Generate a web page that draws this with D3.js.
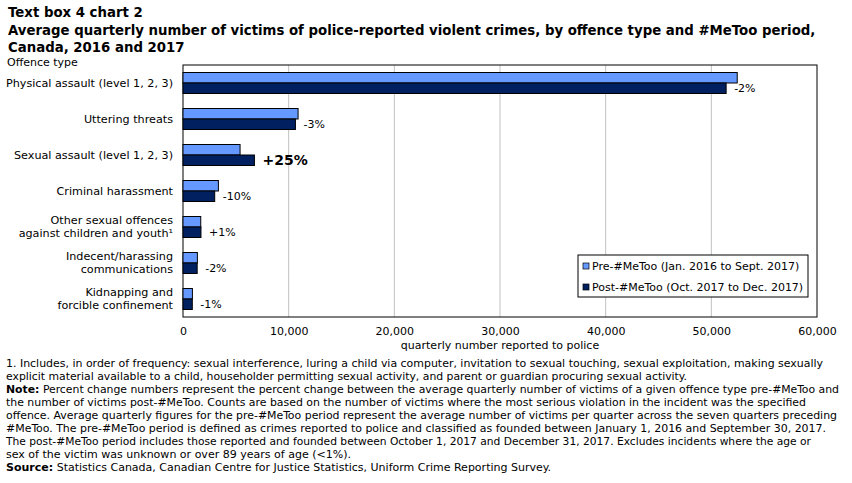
<html>
<head>
<meta charset="utf-8">
<style>
  body { margin: 0; background: #fff; }
  text { font-family: "DejaVu Sans", Verdana, sans-serif; fill: #000; }
  .grid line { stroke: #c0c0c0; stroke-width: 1px; }
  .bar { stroke: #000; stroke-width: 1px; }
</style>
</head>
<body>
<svg width="852" height="483"></svg>
<script src="https://d3js.org/d3.v7.min.js"></script>
<script>
  var categories = [
    ["Physical assault (level 1, 2, 3)"],
    ["Uttering threats"],
    ["Sexual assault (level 1, 2, 3)"],
    ["Criminal harassment"],
    ["Other sexual offences", "against children and youth\u00b9"],
    ["Indecent/harassing", "communications"],
    ["Kidnapping and", "forcible confinement"]
  ];
  var preMeToo = [52450, 10890, 5400, 3350, 1680, 1360, 890];
  var postMeToo = [51400, 10640, 6760, 3000, 1700, 1340, 880];
  var pctLabels = ["-2%", "-3%", "+25%", "-10%", "+1%", "-2%", "-1%"];
  var xTicks = [0, 10000, 20000, 30000, 40000, 50000, 60000];
  var seriesNames = ["Pre-#MeToo (Jan. 2016 to Sept. 2017)", "Post-#MeToo (Oct. 2017 to Dec. 2017)"];
  var colors = ["#6699ff", "#002060"];

  var footnotes = [
    {parts: [["", "1. Includes, in order of frequency: sexual interference, luring a child via computer, invitation to sexual touching, sexual exploitation, making sexually"]], w: 817},
    {parts: [["", "explicit material available to a child, householder permitting sexual activity, and parent or guardian procuring sexual activity."]], w: 681},
    {parts: [["b", "Note:"], ["", " Percent change numbers represent the percent change between the average quarterly number of victims of a given offence type pre-#MeToo and"]], w: 833},
    {parts: [["", "the number of victims post-#MeToo. Counts are based on the number of victims where the most serious violation in the incident was the specified"]], w: 800},
    {parts: [["", "offence. Average quarterly figures for the pre-#MeToo period represent the average number of victims per quarter across the seven quarters preceding"]], w: 831},
    {parts: [["", "#MeToo. The pre-#MeToo period is defined as crimes reported to police and classified as founded between January 1, 2016 and September 30, 2017."]], w: 820},
    {parts: [["", "The post-#MeToo period includes those reported and founded between October 1, 2017 and December 31, 2017. Excludes incidents where the age or"]], w: 805},
    {parts: [["", "sex of the victim was unknown or over 89 years of age (<1%)."]], w: 345},
    {parts: [["b", "Source:"], ["", " Statistics Canada, Canadian Centre for Justice Statistics, Uniform Crime Reporting Survey."]], w: 545}
  ];

  var svg = d3.select("svg");
  var margin = {top: 65, left: 183, right: 35, bottom: 166};
  var width = 852 - margin.left - margin.right;
  var height = 483 - margin.top - margin.bottom;

  // titles
  svg.append("text").attr("x", 8).attr("y", 17)
    .style("font-weight", "bold").style("font-size", "13.3px").text("Text box 4 chart 2");
  svg.append("text").attr("x", 8).attr("y", 35)
    .style("font-weight", "bold").style("font-size", "13.3px")
    .text("Average quarterly number of victims of police-reported violent crimes, by offence type and #MeToo period,");
  svg.append("text").attr("x", 8).attr("y", 52)
    .style("font-weight", "bold").style("font-size", "13.3px").text("Canada, 2016 and 2017");
  svg.append("text").attr("x", 7).attr("y", 66)
    .style("font-size", "11px").text("Offence type");

  var g = svg.append("g").attr("transform", "translate(" + margin.left + "," + margin.top + ")");

  var x = d3.scaleLinear().domain([0, 60000]).range([0, width]);
  var y = d3.scaleBand().domain(d3.range(categories.length)).range([0, height]);
  var barH = 10.5;

  g.append("g").attr("class", "grid")
    .selectAll("line").data(xTicks.slice(1, -1)).join("line")
    .attr("x1", function(d) { return x(d); }).attr("x2", function(d) { return x(d); })
    .attr("y1", 0).attr("y2", height);

  g.append("rect").attr("width", width).attr("height", height)
    .attr("fill", "none").attr("stroke", "#000").attr("stroke-width", 1);

  var rows = g.selectAll(".row").data(categories).join("g")
    .attr("class", "row")
    .attr("transform", function(d, i) { return "translate(0," + y(i) + ")"; });

  var mid = y.bandwidth() / 2;

  rows.append("rect").attr("class", "bar")
    .attr("x", 0).attr("y", mid - barH)
    .attr("width", function(d, i) { return x(preMeToo[i]); })
    .attr("height", barH).attr("fill", colors[0]);

  rows.append("rect").attr("class", "bar")
    .attr("x", 0).attr("y", mid)
    .attr("width", function(d, i) { return x(postMeToo[i]); })
    .attr("height", barH).attr("fill", colors[1]);

  rows.append("text")
    .attr("x", function(d, i) { return x(postMeToo[i]) + 8; })
    .attr("y", mid + barH / 2)
    .attr("dy", "0.35em")
    .style("font-size", function(d, i) { return i === 2 ? "14px" : "11px"; })
    .style("font-weight", function(d, i) { return i === 2 ? "bold" : "normal"; })
    .text(function(d, i) { return pctLabels[i]; });

  rows.append("text")
    .attr("text-anchor", "end")
    .style("font-size", "11.2px")
    .each(function(d) {
      var t = d3.select(this);
      var n = d.length;
      d.forEach(function(line, k) {
        t.append("tspan").attr("x", -10)
          .attr("y", mid + (k - (n - 1) / 2) * 13)
          .attr("dy", "0.35em")
          .text(line);
      });
    });

  var xAxis = g.append("g").attr("transform", "translate(0," + height + ")")
    .call(d3.axisBottom(x).tickValues(xTicks).tickSize(0).tickPadding(10).tickFormat(d3.format(",")));
  xAxis.select(".domain").remove();
  xAxis.selectAll("text").style("font-size", "11px").style("font-family", "'DejaVu Sans', Verdana, sans-serif");

  g.append("text").attr("x", width / 2).attr("y", height + 32)
    .attr("text-anchor", "middle").style("font-size", "11px")
    .text("quarterly number reported to police");

  // legend
  var lg = svg.append("g").attr("transform", "translate(578,255)");
  lg.append("rect").attr("width", 230).attr("height", 42)
    .attr("fill", "#fff").attr("stroke", "#000");
  seriesNames.forEach(function(name, i) {
    lg.append("rect").attr("x", 5).attr("y", 8 + i * 21)
      .attr("width", 6).attr("height", 6)
      .attr("fill", colors[i]).attr("stroke", "#000").attr("stroke-width", 0.7);
    lg.append("text").attr("x", 14).attr("y", 11 + i * 21).attr("dy", "0.35em")
      .style("font-size", "11px").text(name);
  });

  // footnotes
  footnotes.forEach(function(f, i) {
    var t = svg.append("text").attr("x", 6).attr("y", 367 + i * 13)
      .style("font-size", "11px")
      .style("font-family", "'DejaVu Sans Condensed', 'Liberation Sans Narrow', sans-serif")
      .attr("textLength", f.w).attr("lengthAdjust", "spacingAndGlyphs");
    f.parts.forEach(function(p) {
      t.append("tspan").style("font-weight", p[0] === "b" ? "bold" : "normal").text(p[1]);
    });
  });
</script>
</body>
</html>
